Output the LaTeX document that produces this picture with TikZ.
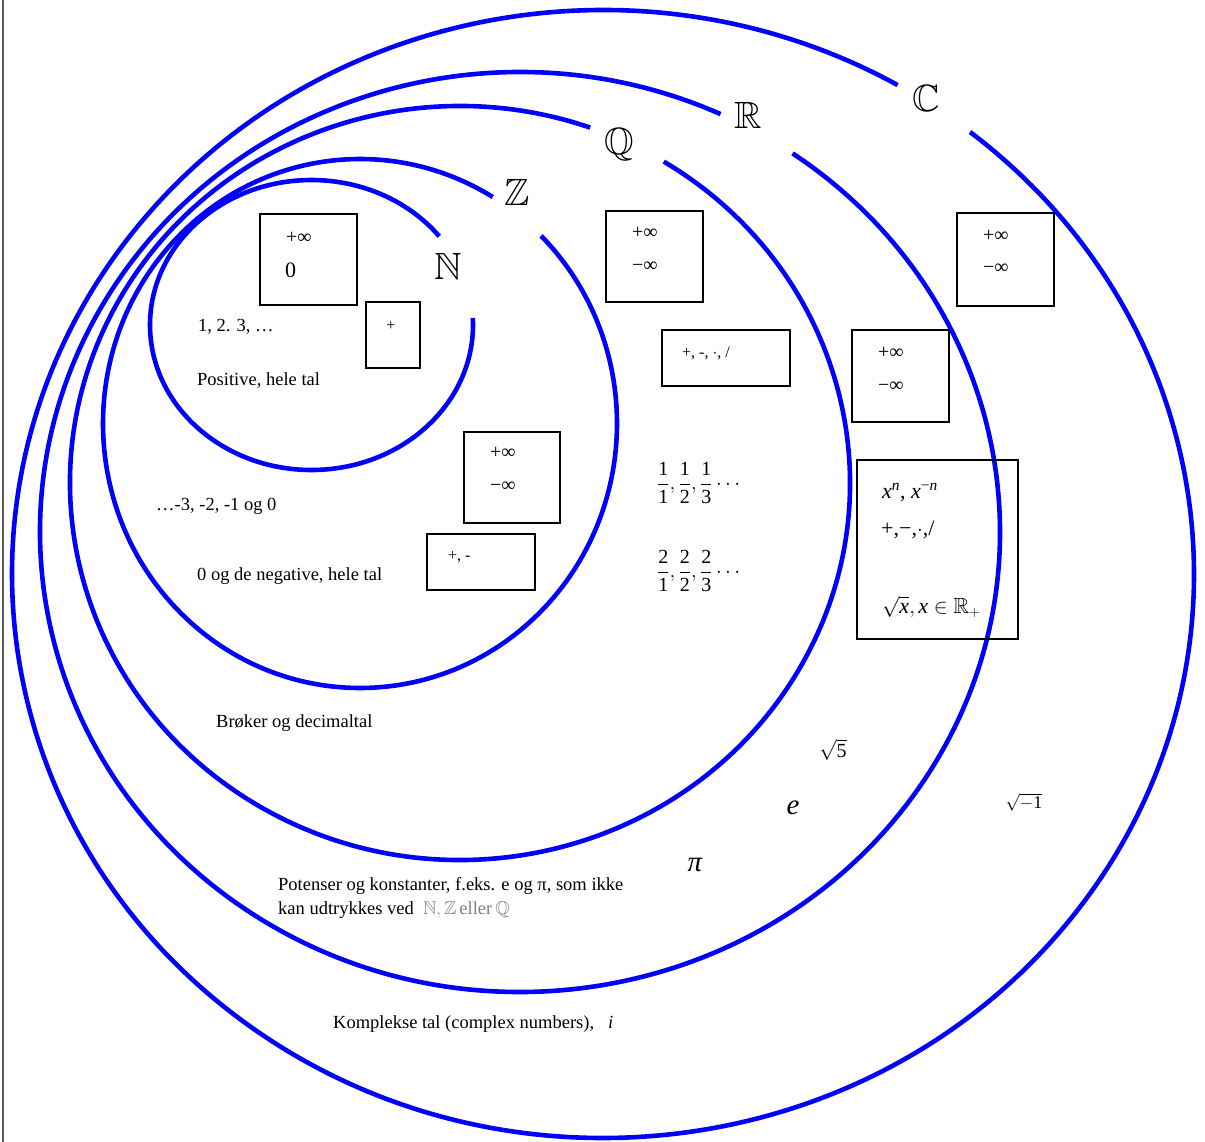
\documentclass[tikz,border=0pt]{standalone}
\usepackage{amsmath,amssymb}
\usepackage{fontspec}
\setmainfont{Liberation Serif}
\definecolor{ringblue}{RGB}{0,0,255}
\definecolor{bordergray}{RGB}{90,90,90}
\begin{document}
\begin{tikzpicture}[x=1pt,y=-1pt,
  ring/.style={draw=ringblue, line width=4.6pt},
  boxst/.style={draw=black, line width=2pt, inner sep=0pt},
  lbl/.style={font=\fontsize{18.5}{22}\selectfont, anchor=base west, inner sep=0pt},
  boxtxt/.style={font=\fontsize{20}{24}\selectfont, anchor=west, inner sep=0pt},
  smalltxt/.style={font=\fontsize{16}{20}\selectfont, anchor=west, inner sep=0pt},
  setlbl/.style={font=\fontsize{38}{40}\selectfont, inner sep=0pt},
  bigit/.style={font=\fontsize{29}{32}\selectfont\itshape, inner sep=0pt},
  fracst/.style={font=\fontsize{20}{24}\selectfont, anchor=west, inner sep=0pt}]
\useasboundingbox (0,0) rectangle (1205,1142);
\fill[white] (0,0) rectangle (1205,1142);
% left border line
\draw[bordergray, line width=1.5pt] (3,0) -- (3,1142);
% set rings (with gaps for the labels)
\draw[ring] (311.5,325) ++(-2.8:161.5 and 145) arc[start angle=-2.8, end angle=322.3, x radius=161.5, y radius=145];
\draw[ring] (360,423.5) ++(-45.2:257 and 264.5) arc[start angle=-45.2, end angle=301.1, x radius=257, y radius=264.5];
\draw[ring] (460,483) ++(-58.5:390 and 377) arc[start angle=-58.5, end angle=289.5, x radius=390, y radius=377];
\draw[ring] (520,532) ++(-55.4:480 and 460) arc[start angle=-55.4, end angle=294.7, x radius=480, y radius=460];
\draw[ring] (603,574) ++(-51.6:591 and 564) arc[start angle=-51.6, end angle=299.9, x radius=591, y radius=564];
% set labels
\node[setlbl] (lN) at (448,266) {$\mathbb{N}$};
\node[setlbl] (lZ) at (517,192) {$\mathbb{Z}$};
\node[setlbl] (lQ) at (619,145) {$\mathbb{Q}$};
\node[setlbl] (lR) at (748,115) {$\mathbb{R}$};
\node[setlbl] (lC) at (926,98) {$\mathbb{C}$};
% boxes
\node[boxst, minimum width=97, minimum height=91] (b1) at (308.5,259.5) {};
\node[boxst, minimum width=54, minimum height=66] (b2) at (393,335) {};
\node[boxst, minimum width=96, minimum height=91] (b3) at (511.5,477.5) {};
\node[boxst, minimum width=108, minimum height=56] (b4) at (481,562) {};
\node[boxst, minimum width=97, minimum height=91] (b5) at (654.5,256.5) {};
\node[boxst, minimum width=128, minimum height=56] (b6) at (726,358) {};
\node[boxst, minimum width=97, minimum height=92] (b7) at (900.5,376) {};
\node[boxst, minimum width=97, minimum height=93] (b8) at (1005.5,259.5) {};
\node[boxst, minimum width=161, minimum height=179] (b9) at (937.5,549.5) {};
% box texts
\node[boxtxt] (t1a) at (286,238) {+∞};
\node[boxtxt, font=\fontsize{22}{26}\selectfont] (t1b) at (285,270) {0};
\node[smalltxt, anchor=center] (t2) at (391,326) {+};
\node[boxtxt] (t3a) at (490,453) {+∞};
\node[boxtxt] (t3b) at (490,487) {−∞};
\node[smalltxt] (t4) at (448,557) {+, -};
\node[boxtxt] (t5a) at (632,233) {+∞};
\node[boxtxt] (t5b) at (632,267) {−∞};
\node[smalltxt] (t6) at (682,353) {+, -, $\cdot$, /};
\node[boxtxt] (t7a) at (878,353) {+∞};
\node[boxtxt] (t7b) at (878,387) {−∞};
\node[boxtxt] (t8a) at (983,236) {+∞};
\node[boxtxt] (t8b) at (983,269) {−∞};
\node[lbl, font=\fontsize{22}{26}\selectfont] (t9a) at (882,498) {\textit{x}\textsuperscript{\textit{n}}, \textit{x}\textsuperscript{−\textit{n}}};
\node[boxtxt, font=\fontsize{22}{26}\selectfont] (t9b) at (881,530) {+,−,$\cdot$,/};
\node[lbl, font=\fontsize{22}{26}\selectfont] (t9c) at (882,613) {$\sqrt{\mathit{x}},\mathit{x}\in\mathbb{R}_{+}$};
% N texts
\node[lbl] (n1) at (198,331) {1, 2. 3, …};
\node[lbl] (n2) at (197,385) {Positive, hele tal};
% Z texts
\node[lbl] (z1) at (156,510) {…-3, -2, -1 og 0};
\node[lbl] (z2) at (197,580) {0 og de negative, hele tal};
% Q texts
\node[fracst] (q1) at (657,483) {$\dfrac{\mathrm{1}}{\mathrm{1}},\dfrac{\mathrm{1}}{\mathrm{2}},\dfrac{\mathrm{1}}{\mathrm{3}}\cdots$};
\node[fracst] (q2) at (657,571) {$\dfrac{\mathrm{2}}{\mathrm{1}},\dfrac{\mathrm{2}}{\mathrm{2}},\dfrac{\mathrm{2}}{\mathrm{3}}\cdots$};
\node[lbl] (q3) at (216,727) {Brøker og decimaltal};
% R texts
\node[font=\fontsize{20}{24}\selectfont, inner sep=0pt] (r1) at (833,750) {$\sqrt{\mathrm{5}}$};
\node[bigit] (r2) at (793,808) {e};
\node[bigit] (r3) at (695,865) {π};
\node[lbl] (r4) at (278,890) {Potenser og konstanter, f.eks. e og π, som ikke};
\node[lbl] (r5) at (278,914) {kan udtrykkes ved \ \textcolor{gray}{$\mathbb{N},\mathbb{Z}$\,eller\,$\mathbb{Q}$}};
% C texts
\node[font=\fontsize{18}{22}\selectfont, inner sep=0pt] (c1) at (1024,802) {$\sqrt{-\mathrm{1}}$};
\node[lbl] (c2) at (333,1028) {Komplekse tal (complex numbers),};
\node[lbl, font=\fontsize{18.5}{22}\selectfont\itshape] (c3) at (608,1028) {i};
\end{tikzpicture}
\end{document}
